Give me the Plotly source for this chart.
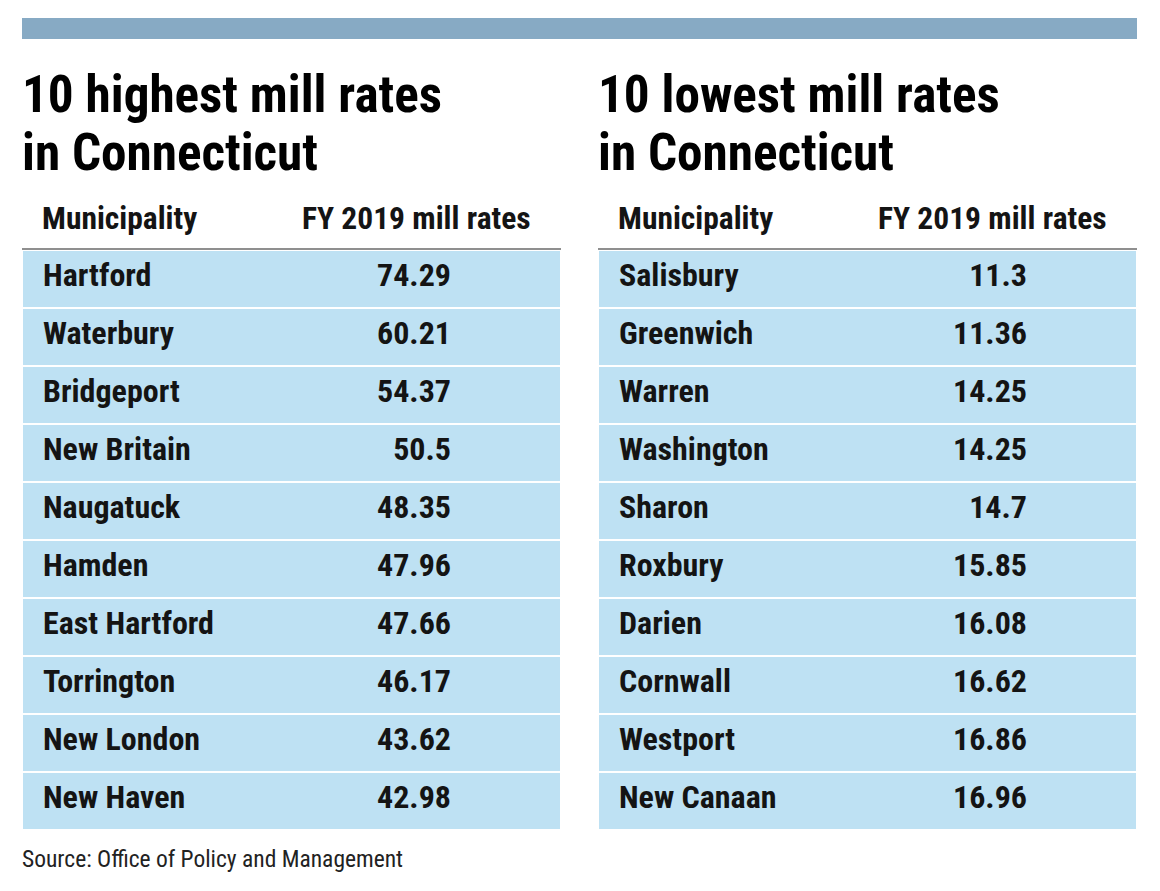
import plotly.graph_objects as go

# the page puts the plot 8px in from the top-left corner, so the figure is
# 8px smaller than the window and reference pixels are shifted by that much
W, H = 1152, 883
OFF = 8

high_title = ["10 highest mill rates", "in Connecticut"]
high_names = ["Hartford", "Waterbury", "Bridgeport", "New Britain", "Naugatuck",
              "Hamden", "East Hartford", "Torrington", "New London", "New Haven"]
high_rates = [74.29, 60.21, 54.37, 50.5, 48.35, 47.96, 47.66, 46.17, 43.62, 42.98]

low_title = ["10 lowest mill rates", "in Connecticut"]
low_names = ["Salisbury", "Greenwich", "Warren", "Washington", "Sharon",
             "Roxbury", "Darien", "Cornwall", "Westport", "New Canaan"]
low_rates = [11.3, 11.36, 14.25, 14.25, 14.7, 15.85, 16.08, 16.62, 16.86, 16.96]

col_headers = ["Municipality", "FY 2019 mill rates"]
source = "Source: Office of Policy and Management"

NARROW = "Roboto Condensed, Liberation Sans Narrow, Arial Narrow, Roboto, sans-serif"
INK = "#141414"
CELL_BLUE = "#BEE1F3"
BAR_BLUE = "#87AAC4"
CLEAR = "rgba(0,0,0,0)"

TABLE_W = 539
BODY_TOP = 250
ROW_H = 58
HEAD_H = 20  # blank header strip the table always draws
TEXT_DROP = 4  # text layer sits a little lower than the row boxes


def px_x(x):
    return (x - OFF) / W


def px_y(y):
    return 1 - (y - OFF) / H


def blank_header(n):
    return dict(values=[""] * n, height=HEAD_H, fill_color=CLEAR,
                line=dict(width=0, color=CLEAR), font=dict(size=1))


def add_side(fig, x0, title, names, rates):
    rows = len(names)
    bottom = BODY_TOP + ROW_H * rows + 12

    # background rows with white separators
    fig.add_trace(go.Table(
        domain=dict(x=[px_x(x0), px_x(x0 + TABLE_W)],
                    y=[px_y(bottom), px_y(BODY_TOP - HEAD_H)]),
        header=blank_header(1),
        cells=dict(values=[[""] * rows], fill_color=CELL_BLUE, height=ROW_H,
                   line=dict(color="white", width=2)),
    ))
    # text layer
    fig.add_trace(go.Table(
        domain=dict(x=[px_x(x0 + 13), px_x(x0 + 437)],
                    y=[px_y(bottom + TEXT_DROP), px_y(BODY_TOP - HEAD_H + TEXT_DROP)]),
        columnwidth=[260, 164],
        header=blank_header(2),
        cells=dict(values=[names, rates], fill_color=CLEAR, height=ROW_H,
                   line=dict(color=CLEAR, width=0), align=["left", "right"],
                   font=dict(family=NARROW, size=32, color=INK, weight="bold")),
    ))

    for line, yc in zip(title, [95, 153]):
        fig.add_annotation(x=px_x(x0 - 2), y=px_y(yc), text=line, showarrow=False,
                           xanchor="left", yanchor="middle",
                           font=dict(family=NARROW, size=51.2, color="#000", weight="bold"))

    fig.add_annotation(x=px_x(x0 + 18), y=px_y(219), text=col_headers[0], showarrow=False,
                       xanchor="left", yanchor="middle",
                       font=dict(family=NARROW, size=31.5, color=INK, weight="bold"))
    fig.add_annotation(x=px_x(x0 + 511), y=px_y(219), text=col_headers[1], showarrow=False,
                       xanchor="right", yanchor="middle",
                       font=dict(family=NARROW, size=31.5, color=INK, weight="bold"))

    fig.add_shape(type="line", xref="paper", yref="paper",
                  x0=px_x(x0), x1=px_x(x0 + TABLE_W), y0=px_y(249), y1=px_y(249),
                  line=dict(color="#8f8f8f", width=2))


fig = go.Figure()
add_side(fig, 22, high_title, high_names, high_rates)
add_side(fig, 598, low_title, low_names, low_rates)

# top rule
fig.add_shape(type="rect", xref="paper", yref="paper",
              x0=px_x(22), x1=px_x(1137), y0=px_y(39), y1=px_y(18),
              fillcolor=BAR_BLUE, line=dict(width=0))

fig.add_annotation(x=px_x(20), y=px_y(859), text=source, showarrow=False,
                   xanchor="left", yanchor="middle",
                   font=dict(family=NARROW, size=23.5, color="#222"))

fig.update_layout(
    width=W,
    height=H,
    margin=dict(l=0, r=0, t=0, b=0),
    paper_bgcolor="white",
    plot_bgcolor="white",
    showlegend=False,
)

fig.write_html("out.html")
